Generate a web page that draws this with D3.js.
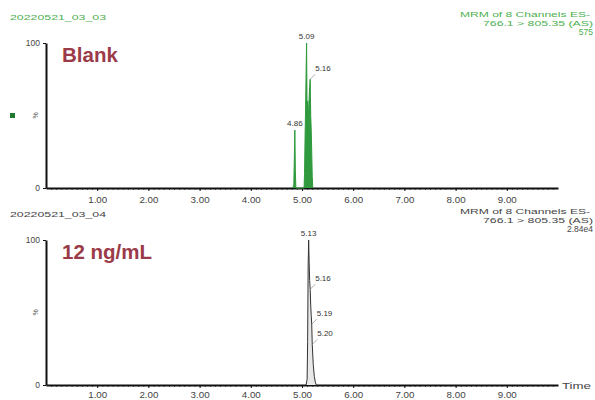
<!DOCTYPE html>
<html>
<head>
<meta charset="UTF-8">
<title>MRM chromatograms</title>
<style>
  body { margin: 0; background: #fff; }
  svg { display: block; font-family: "Liberation Sans", Arial, sans-serif; }
  .axis path, .axis line { stroke: #111; }
  .axis text { fill: #444; font-size: 8.5px; }
  .minor line { stroke: #666; }
  .minor path { display: none; }
</style>
</head>
<body>
<div class="chart"></div>
<script src="https://d3js.org/d3.v7.min.js"></script>
<script>
var w = 595, h = 400;

// x axis (minutes)
var xTicks = [1, 2, 3, 4, 5, 6, 7, 8, 9];

// Blank trace (green)
var blankTime = [4.82, 4.84, 4.85, 4.86, 4.87, 4.88, 5.04, 5.05, 5.06, 5.07, 5.08, 5.09, 5.10, 5.11, 5.12, 5.13, 5.14, 5.15, 5.16, 5.17, 5.18, 5.19, 5.20, 5.21];
var blankInt  = [0, 2, 20, 40, 12, 0, 0, 10, 35, 55, 80, 100, 45, 60, 38, 55, 62, 70, 75, 50, 40, 25, 8, 0];
var blankPeakTimes = [4.86, 5.09, 5.16];
var blankPeakInt   = [40, 100, 75];

// 12 ng/mL trace
var stdTime = [5.08, 5.10, 5.11, 5.12, 5.13, 5.14, 5.15, 5.16, 5.17, 5.18, 5.19, 5.20, 5.22, 5.24, 5.26, 5.28];
var stdInt  = [0, 4, 30, 82, 100, 84, 72, 66, 55, 48, 42, 28, 14, 6, 2, 0];
var stdPeakTimes = [5.13, 5.16, 5.19, 5.20];
var stdPeakInt   = [100, 66, 42, 28];

var svg = d3.select("div.chart").append("svg")
  .attr("width", w).attr("height", h);

var x = d3.scaleLinear().domain([0, 10]).range([46, 558]);
var fmt = d3.format(".2f");

function panel(opt) {
  var y = d3.scaleLinear().domain([0, 100]).range([opt.y0, opt.y100]);
  var g = svg.append("g");

  // header texts
  g.append("text").attr("x", 10).attr("y", opt.y100 - 23)
    .attr("font-size", 8).attr("fill", opt.headColor)
    .attr("textLength", 96).attr("lengthAdjust", "spacingAndGlyphs").text(opt.file);
  g.append("text").attr("x", 460).attr("y", opt.y100 - 26)
    .attr("font-size", 8).attr("fill", opt.headColor)
    .attr("textLength", 130).attr("lengthAdjust", "spacingAndGlyphs").text(opt.right[0]);
  g.append("text").attr("x", 483).attr("y", opt.y100 - 17)
    .attr("font-size", 8).attr("fill", opt.headColor)
    .attr("textLength", 110).attr("lengthAdjust", "spacingAndGlyphs").text(opt.right[1]);
  g.append("text").attr("x", 593).attr("y", opt.y100 - 8)
    .attr("text-anchor", "end").attr("font-size", 8.5).attr("fill", opt.headColor)
    .text(opt.right[2]);

  // minor ticks
  g.append("g").attr("class", "axis minor")
    .attr("transform", "translate(0," + opt.y0 + ")")
    .call(d3.axisBottom(x).tickValues(d3.range(1, 100).map(function (d) { return d / 10; }))
      .tickSize(2).tickFormat(""));

  // major x axis
  var xa = g.append("g").attr("class", "axis")
    .attr("transform", "translate(0," + opt.y0 + ")")
    .call(d3.axisBottom(x).tickValues(xTicks).tickFormat(fmt).tickSize(3).tickSizeOuter(0));
  xa.select(".domain").attr("stroke-width", 2);
  xa.selectAll("text").attr("dy", opt.tickDy)
    .attr("textLength", 19).attr("lengthAdjust", "spacingAndGlyphs");

  // y axis
  var ya = g.append("g").attr("class", "axis")
    .attr("transform", "translate(46,0)")
    .call(d3.axisLeft(y).tickValues([0, 100]).tickSize(3).tickSizeOuter(0));
  ya.select(".domain").attr("stroke-width", 2);
  ya.selectAll("text").attr("font-size", 7);
  g.append("text").attr("transform", "translate(38," + ((opt.y0 + opt.y100) / 2) + ") rotate(-90)")
    .attr("text-anchor", "middle").attr("font-size", 7).attr("fill", "#555").text("%");

  if (opt.marker) {
    g.append("rect").attr("x", 10).attr("y", (opt.y0 + opt.y100) / 2 - 2.5)
      .attr("width", 5).attr("height", 5).attr("fill", "#1f7a2e");
  }

  // trace
  var area = d3.area().x(function (d, i) { return x(opt.time[i]); })
    .y0(opt.y0).y1(function (d) { return y(d); });
  var line = d3.line().x(function (d, i) { return x(opt.time[i]); })
    .y(function (d) { return y(d); });
  g.append("path").datum(opt.int).attr("d", area)
    .attr("fill", opt.fill).attr("stroke", "none");
  g.append("path").datum(opt.int).attr("d", line)
    .attr("fill", "none").attr("stroke", opt.color).attr("stroke-width", 1);

  // peak labels
  opt.peakTimes.forEach(function (t, i) {
    var px = x(t), py = y(opt.peakInt[i]);
    var lx = px, ly = py - 4, anchor = "middle";
    if (opt.peakInt[i] < 100 && i > 0) {
      lx = px + 5; ly = py - 8; anchor = "start";
      g.append("line").attr("x1", px).attr("y1", py)
        .attr("x2", px + 5).attr("y2", py - 5)
        .attr("stroke", "#777").attr("stroke-width", 0.6);
    }
    g.append("text").attr("x", lx).attr("y", ly).attr("text-anchor", anchor)
      .attr("font-size", 8).attr("fill", "#333").text(fmt(t));
  });

  // sample label
  g.append("text").attr("x", 62).attr("y", opt.y100 + 19)
    .attr("font-size", 20.5).attr("font-weight", "bold").attr("fill", "#9b3a48")
    .text(opt.title);
}

panel({
  y0: 188, y100: 43, file: "20220521_03_03", headColor: "#4caf50",
  right: ["MRM of 8 Channels ES-", "766.1 > 805.35 (AS)", "575"], tickDy: "1.05em",
  time: blankTime, int: blankInt, color: "#2e9a3c", fill: "#2f9b3e",
  peakTimes: blankPeakTimes, peakInt: blankPeakInt, title: "Blank", marker: true
});

panel({
  y0: 385, y100: 240, file: "20220521_03_04", headColor: "#444",
  right: ["MRM of 8 Channels ES-", "766.1 > 805.35 (AS)", "2.84e4"], tickDy: "0.8em",
  time: stdTime, int: stdInt, color: "#333", fill: "#e8e8e8",
  peakTimes: stdPeakTimes, peakInt: stdPeakInt, title: "12 ng/mL", marker: false
});

svg.append("text").attr("x", 562).attr("y", 389)
  .attr("font-size", 8.5).attr("fill", "#444")
  .attr("textLength", 29).attr("lengthAdjust", "spacingAndGlyphs").text("Time");
</script>
</body>
</html>
